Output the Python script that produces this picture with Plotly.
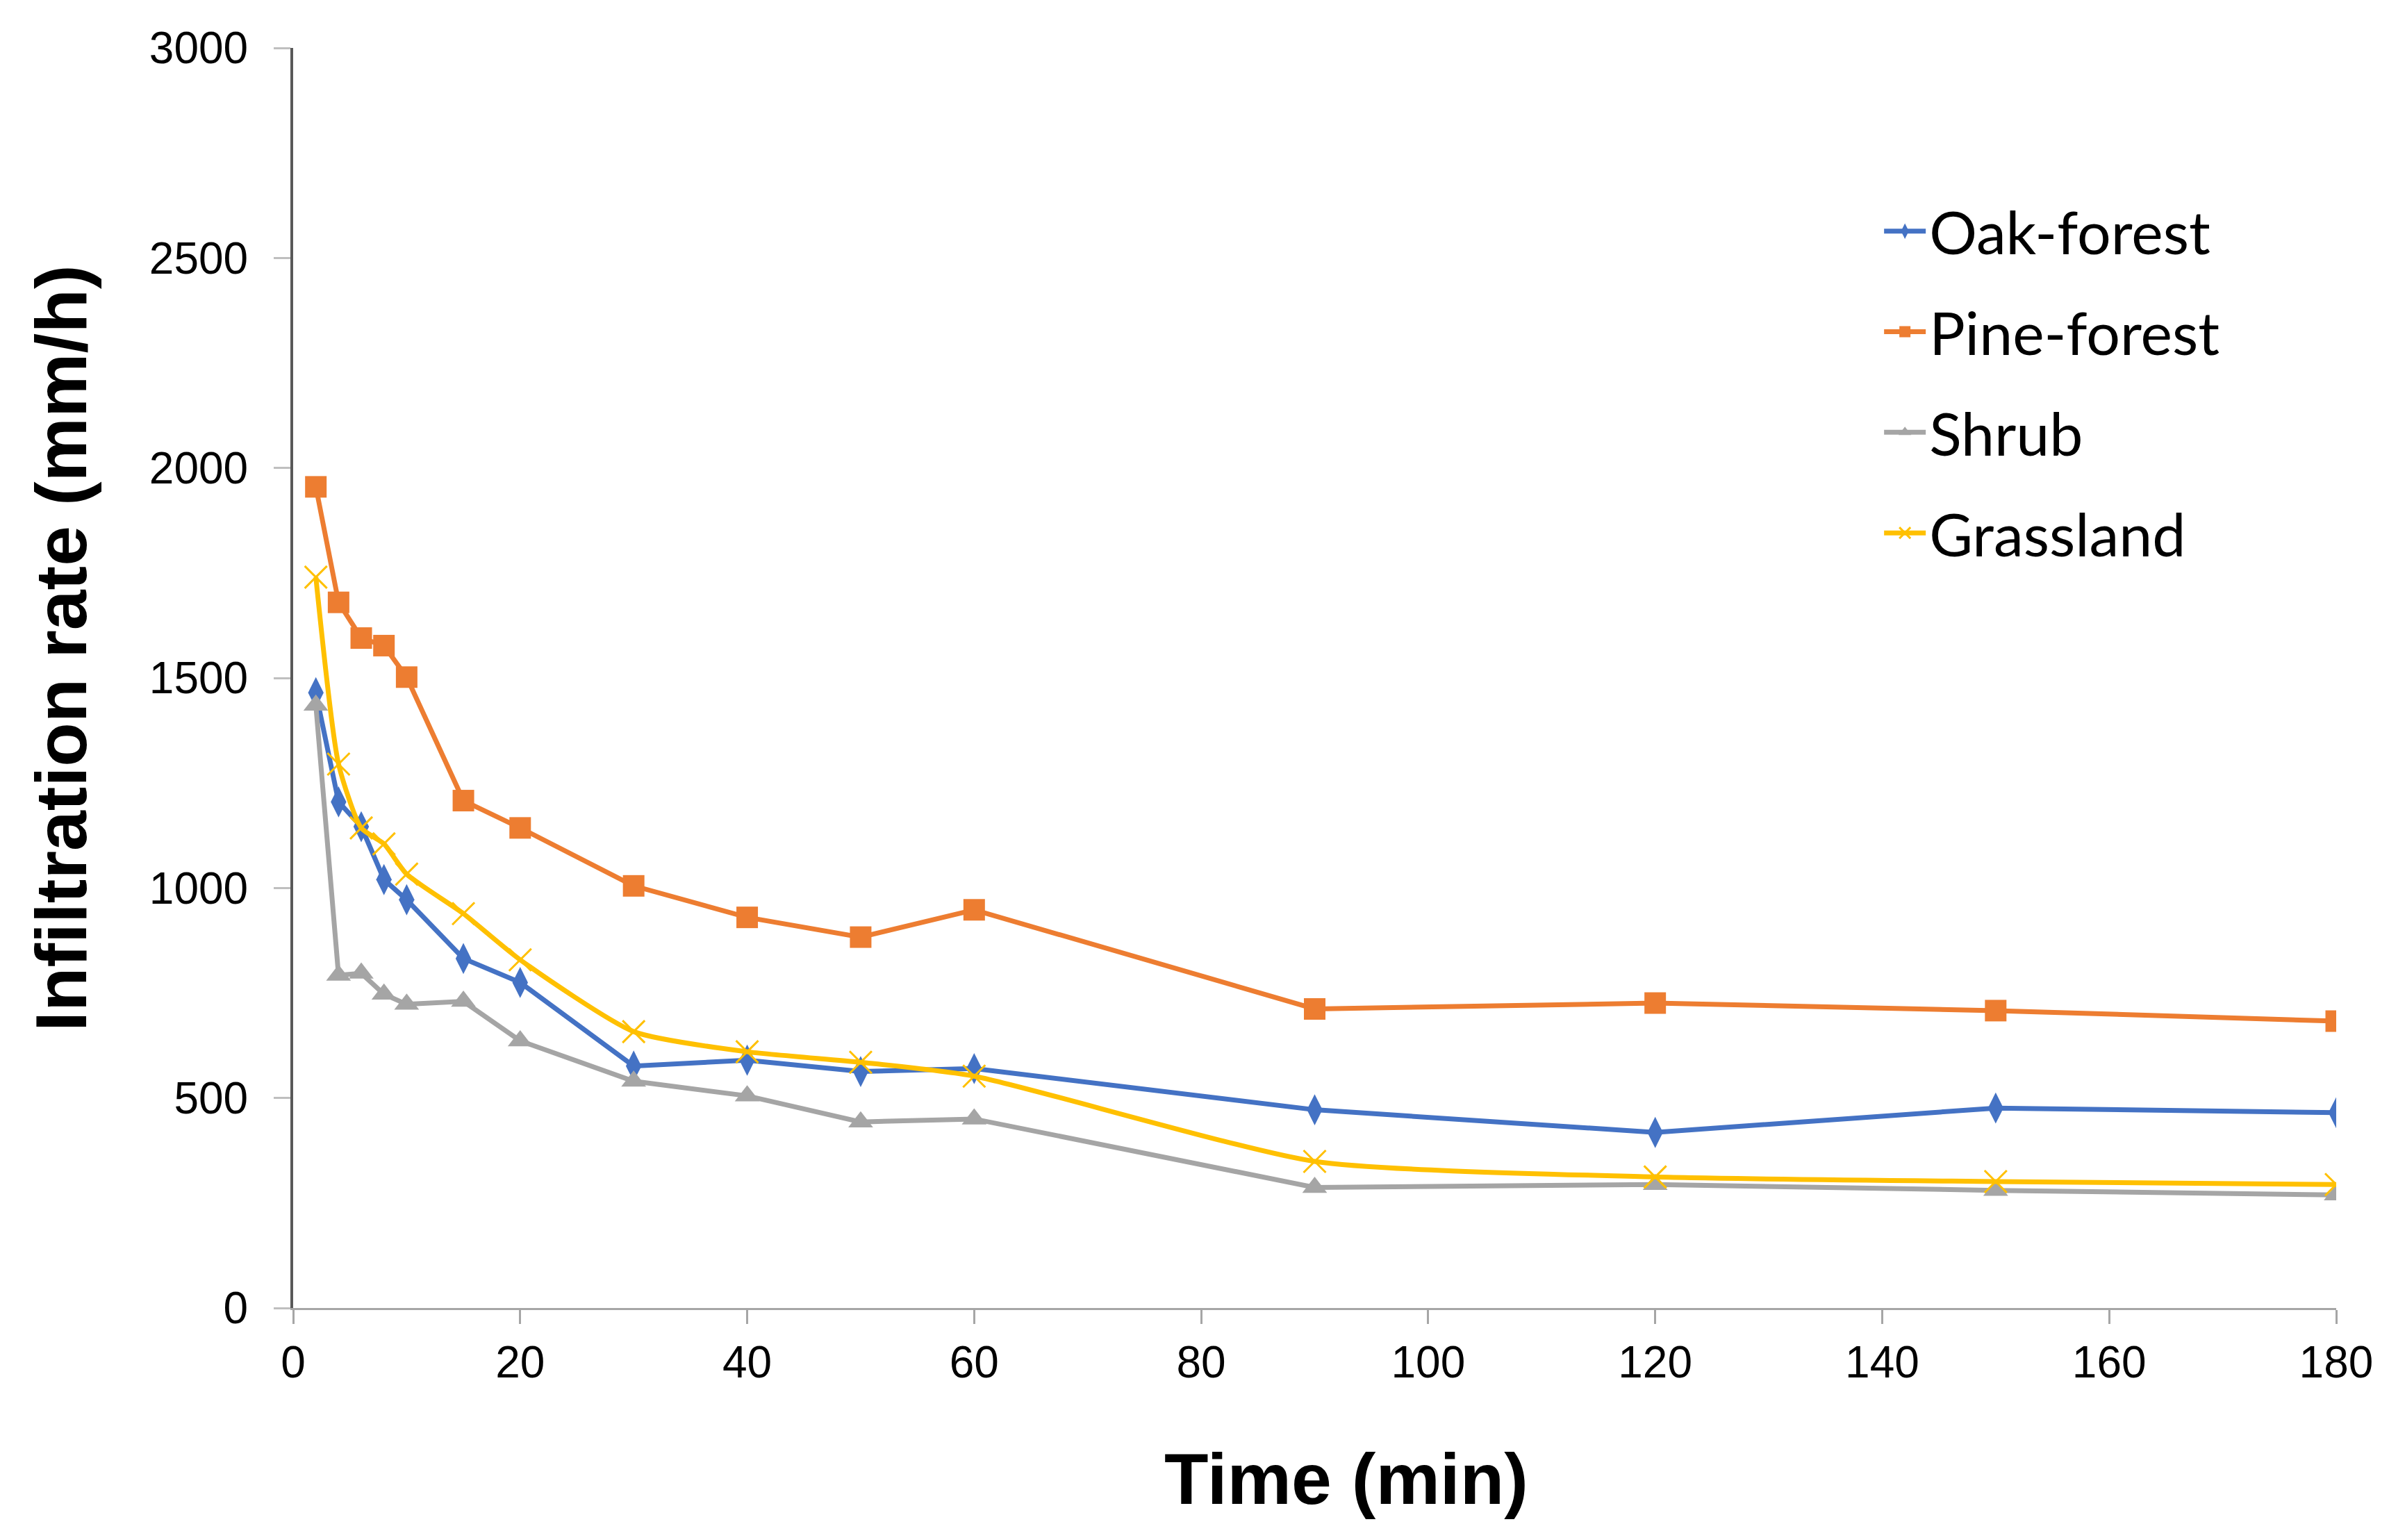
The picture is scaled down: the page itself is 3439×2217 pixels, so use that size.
import plotly.graph_objects as go

time_min = [2, 4, 6, 8, 10, 15, 20, 30, 40, 50, 60, 90, 120, 150, 180]
oak_forest = [1465, 1205, 1146, 1020, 972, 832, 775, 576, 590, 563, 570, 472, 418, 476, 465]
pine_forest = [1955, 1680, 1595, 1577, 1502, 1208, 1143, 1005, 930, 883, 948, 712, 726, 708, 683]
shrub = [1435, 792, 797, 747, 723, 730, 636, 540, 505, 443, 450, 287, 294, 280, 269]
grassland = [1740, 1295, 1143, 1105, 1033, 939, 829, 658, 610, 585, 552, 349, 312, 301, 294]

x_ticks = [0, 20, 40, 60, 80, 100, 120, 140, 160, 180]
y_ticks = [0, 500, 1000, 1500, 2000, 2500, 3000]

W, H = 3439, 2217
ML, MR, MT, MB = 414, 84, 61, 342

fig = go.Figure()
fig.add_trace(go.Scatter(x=time_min, y=oak_forest, name="Oak-forest", mode="lines+markers",
                         line=dict(color="#4472C4", width=7), legendgroup="a",
                         marker=dict(symbol="diamond-tall", size=32, color="#4472C4")))
fig.add_trace(go.Scatter(x=time_min, y=pine_forest, name="Pine-forest", mode="lines+markers",
                         line=dict(color="#ED7D31", width=7), legendgroup="b",
                         marker=dict(symbol="square", size=31, color="#ED7D31")))
fig.add_trace(go.Scatter(x=time_min, y=shrub, name="Shrub", mode="lines+markers",
                         line=dict(color="#A5A5A5", width=7), legendgroup="c",
                         marker=dict(symbol="triangle-up", size=31, color="#A5A5A5")))
fig.add_trace(go.Scatter(x=time_min, y=grassland, name="Grassland", mode="lines+markers",
                         line=dict(color="#FFC000", width=7, shape="spline", smoothing=0.6),
                         legendgroup="d",
                         marker=dict(symbol="x-thin", size=32, color="#FFC000",
                                     line=dict(color="#FFC000", width=3))))

tick_font = dict(family="Liberation Sans, Arial, sans-serif", size=64, color="black")
title_font = dict(family="Liberation Sans, Arial, sans-serif", size=104, color="black")

fig.update_layout(
    width=W, height=H,
    margin=dict(l=ML, r=MR, t=MT, b=MB),
    paper_bgcolor="white", plot_bgcolor="white",
    showlegend=True,
    legend=dict(x=0.777, y=0.889, xanchor="left", yanchor="top",
                font=dict(family="Lato, Noto Sans, sans-serif", size=86, color="black"),
                traceorder="grouped", tracegroupgap=30, bgcolor="rgba(0,0,0,0)",
                itemwidth=60),
    xaxis=dict(range=[0, 180], tickvals=x_ticks, ticktext=[str(v) for v in x_ticks],
               showgrid=False, zeroline=False, showline=True, linecolor="#A6A6A6",
               linewidth=3, ticks="outside", ticklen=20, tickwidth=3, tickcolor="#A6A6A6",
               tickfont=tick_font),
    yaxis=dict(range=[0, 3000], tickvals=y_ticks, ticktext=[str(v) for v in y_ticks],
               showgrid=False, zeroline=False, showline=True, linecolor="#595959",
               linewidth=4, ticks="outside", ticklen=24, tickwidth=3, tickcolor="#BFBFBF",
               ticklabelstandoff=24, tickfont=tick_font),
    annotations=[
        dict(text="<b>Time (min)</b>", xref="paper", yref="paper",
             x=(1930 - ML) / (W - ML - MR), y=-(2121 - (H - MB)) / (H - MT - MB),
             xanchor="center", yanchor="middle", showarrow=False, font=title_font),
        dict(text="<b>Infiltration rate (mm/h)</b>", xref="paper", yref="paper",
             x=-(ML - 80) / (W - ML - MR), y=((H - MB) - 925) / (H - MT - MB),
             xanchor="center", yanchor="middle", textangle=-90, showarrow=False,
             font=title_font),
    ],
)

fig.write_html("out.html")
